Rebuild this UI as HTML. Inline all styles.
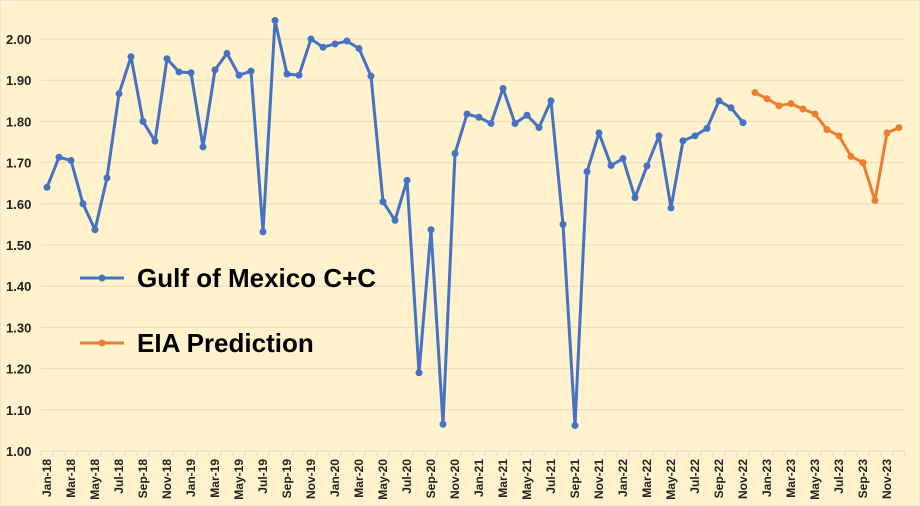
<!DOCTYPE html>
<html><head><meta charset="utf-8"><style>
html,body{margin:0;padding:0;background:#FFF2CC;}
svg{display:block;font-family:"Liberation Sans",sans-serif;}
</style></head><body>
<svg id="chart" width="920" height="506">
<rect width="920" height="506" fill="#FFF2CC" stroke="#d9d9d9"/>
<g id="grid"></g><g id="axes"></g><g id="series"></g>
<g>
<g>
<line x1="80" y1="278" x2="124" y2="278" stroke="#4472C4" stroke-width="3"/><circle cx="102" cy="278" r="3.5" fill="#4472C4"/>
<text x="137" y="287" font-size="26" font-weight="bold" fill="#000">Gulf of Mexico C+C</text></g>
<g>
<line x1="80" y1="343" x2="124" y2="343" stroke="#ED7D31" stroke-width="3"/><circle cx="102" cy="343" r="3.5" fill="#ED7D31"/>
<text x="137" y="352" font-size="26" font-weight="bold" fill="#000">EIA Prediction</text></g>
</g>
</svg>
<script>
const months = (function(){const m=["Jan","Feb","Mar","Apr","May","Jun","Jul","Aug","Sep","Oct","Nov","Dec"];const r=[];for(let y=18;y<=23;y++)for(const k of m)r.push(k+"-"+y);return r;})();
const gomValues = [1.64,1.713,1.705,1.60,1.537,1.663,1.867,1.957,1.80,1.752,1.952,1.92,
1.918,1.738,1.925,1.965,1.912,1.922,1.532,2.045,1.915,1.912,2.00,1.98,
1.988,1.995,1.977,1.91,1.605,1.56,1.657,1.19,1.537,1.065,1.722,1.818,
1.81,1.795,1.88,1.795,1.815,1.785,1.85,1.55,1.062,1.678,1.772,1.693,
1.71,1.615,1.692,1.765,1.59,1.753,1.765,1.783,1.85,1.833,1.797];
const eiaStart = 59;
const eiaValues = [1.870,1.855,1.838,1.843,1.830,1.818,1.780,1.765,1.715,1.700,1.608,1.772,1.785];
const yTicks = [1.00,1.10,1.20,1.30,1.40,1.50,1.60,1.70,1.80,1.90,2.00];

const NS="http://www.w3.org/2000/svg";
const L=41,R=905,Y0=451,Y1=39;
const band=(R-L)/months.length;
function xs(i){return L+band*(i+0.5);}
function ys(v){return Y0-(v-1.0)/(1.0)*(Y0-Y1);}
function mk(t,a,p){const e=document.createElementNS(NS,t);for(const k in a)e.setAttribute(k,a[k]);p.appendChild(e);return e;}
const grid=document.getElementById('grid'),axes=document.getElementById('axes'),ser=document.getElementById('series');
yTicks.forEach(v=>{
 const g=mk('line',{x1:L,x2:R,y1:ys(v),y2:ys(v),stroke:v===1?'#d9d9d9':'#e6dcc0','stroke-width':1},grid);
 
 
 const t=mk('text',{x:6,y:ys(v)+5,'font-size':13,'font-weight':'bold',fill:'#222'},axes);
 t.textContent=v.toFixed(2);
 
 
});
for(let i=0;i<=months.length;i++){
 const tk=mk('line',{x1:L+band*i,x2:L+band*i,y1:Y0,y2:Y0+5,stroke:'#d9d9d9'},axes);
 
 
}
months.forEach((m,i)=>{
 if(i%2) return;
 const x=xs(i)+4,y=Y0+8;
 const t=mk('text',{x:x,y:y,'font-size':12,'font-weight':'bold',fill:'#222','text-anchor':'end',transform:`rotate(-90 ${x} ${y})`},axes);
 t.textContent=m;
 
 
});
function draw(vals,start,color,name){
 const pts=vals.map((v,i)=>xs(start+i).toFixed(1)+','+ys(v).toFixed(1)).join(' ');
 const pl=mk('polyline',{points:pts,fill:'none',stroke:color,'stroke-width':3,'stroke-linejoin':'round'},ser);
 
 
 vals.forEach((v,i)=>{
  const c=mk('circle',{cx:xs(start+i),cy:ys(v),r:3.5,fill:color},ser);
  
  
 });
}
draw(gomValues,0,'#4472C4','gom');
draw(eiaValues,eiaStart,'#ED7D31','eia');
</script>
</body></html>
